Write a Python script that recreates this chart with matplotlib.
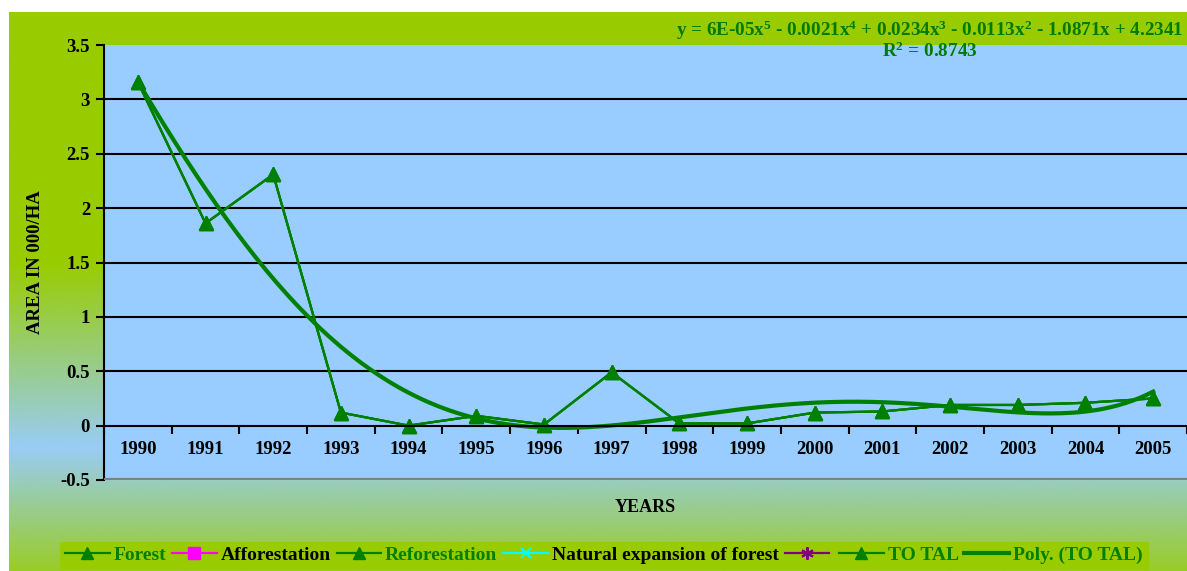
import numpy as np
import matplotlib
matplotlib.use("Agg")
import matplotlib.pyplot as plt
from matplotlib.colors import LinearSegmentedColormap
from matplotlib.lines import Line2D

plt.rcParams['font.family'] = ['Liberation Serif', 'DejaVu Serif']
plt.rcParams['font.weight'] = 'bold'
plt.rcParams['mathtext.fontset'] = 'custom'
plt.rcParams['mathtext.rm'] = 'Liberation Serif:bold'
plt.rcParams['mathtext.default'] = 'rm'

years = ['1990', '1991', '1992', '1993', '1994', '1995', '1996', '1997',
         '1998', '1999', '2000', '2001', '2002', '2003', '2004', '2005']
total = [3.16, 1.86, 2.31, 0.12, 0.0, 0.09, 0.01, 0.49,
         0.02, 0.02, 0.12, 0.13, 0.19, 0.19, 0.21, 0.25]
forest = list(total)
reforestation = list(total)
afforestation = []
natural_expansion = []
other = []

green = '#008000'

fig = plt.figure(figsize=(11.87, 5.71), dpi=100)

# chart-area gradient background
bg = fig.add_axes([9 / 1187, 0, 1 - 9 / 1187, 1 - 12 / 571], zorder=-5)
cmap = LinearSegmentedColormap.from_list('bg', [
    (0.0, (153/255, 204/255, 0)),
    (0.45, (153/255, 204/255, 0)),
    (0.78, (153/255, 204/255, 245/255)),
    (1.0, (153/255, 204/255, 40/255))])
bg.imshow(np.linspace(0, 1, 256).reshape(-1, 1), cmap=cmap, aspect='auto',
          extent=[0, 1, 0, 1])
bg.set_axis_off()

ax = fig.add_axes([104 / 1187, 1 - 480 / 571, 1 - 104 / 1187, (480 - 45) / 571])
ax.set_facecolor('#99CCFF')

x = np.arange(len(years))
ax.plot(x, forest, color=green, lw=1.6, marker='^', ms=9.5)
ax.plot(x, reforestation, color=green, lw=1.6, marker='^', ms=9.5)
ax.plot(x, total, color=green, lw=1.6, marker='^', ms=9.5)

# polynomial trendline (order 5) on TOTAL
coef = np.polyfit(x + 1, total, 5)
xf = np.linspace(1, 16, 300)
ax.plot(xf - 1, np.polyval(coef, xf), color=green, lw=3)

ax.set_xlim(-0.5, 15.5)
ax.set_ylim(-0.5, 3.5)
for v in np.arange(0.5, 3.01, 0.5):
    ax.axhline(v, color='black', lw=1.5, zorder=0.5)
ax.axhline(-0.5, color='#808080', lw=3, zorder=3)

for s in ['top', 'right']:
    ax.spines[s].set_visible(False)
ax.spines['left'].set_linewidth(1.5)
ax.spines['bottom'].set_position(('data', 0))
ax.spines['bottom'].set_linewidth(1.5)

ax.set_yticks(np.arange(-0.5, 3.51, 0.5))
ax.set_yticklabels(['-0.5', '0', '0.5', '1', '1.5', '2', '2.5', '3', '3.5'])
ax.tick_params(axis='y', length=6, width=1.5, labelsize=13.5, pad=4)

ax.set_xticks(np.arange(-0.5, 15.6, 1))
ax.set_xticklabels([])
ax.tick_params(axis='x', which='major', length=6, width=1.5, direction='out')
ax.set_xticks(x, minor=True)
ax.set_xticklabels(years, minor=True)
ax.tick_params(axis='x', which='minor', length=0, labelsize=13.5, pad=11)

ax.set_ylabel('AREA IN 000/HA', fontsize=13.5, fontweight='bold', labelpad=12)
fig.text(645 / 1187, 1 - 508 / 571, 'YEARS', ha='center', va='center',
         fontsize=13, fontweight='bold')

fig.text(1184 / 1187, 1 - 40 / 571,
         'y = 6E-05x$^{5}$ - 0.0021x$^{4}$ + 0.0234x$^{3}$ - 0.0113x$^{2}$ - 1.0871x + 4.2341\nR$^{2}$ = 0.8743',
         ha='right', va='center', multialignment='center', color='#007A00',
         fontsize=13.8, fontweight='bold', linespacing=1.0)

handles = [
    Line2D([], [], color=green, lw=1.6, marker='^', ms=9),
    Line2D([], [], color='#FF00FF', lw=1.6, marker='s', ms=8),
    Line2D([], [], color=green, lw=1.6, marker='^', ms=9),
    Line2D([], [], color='#00FFFF', lw=1.6, marker='x', ms=7, mew=1.5),
    Line2D([], [], color='#800080', lw=1.6, marker=(6, 2, 0), ms=9, mew=1.5),
    Line2D([], [], color=green, lw=1.6, marker='^', ms=9),
    Line2D([], [], color=green, lw=3),
]
labels = ['Forest', 'Afforestation', 'Reforestation', 'Natural expansion of forest',
          '', 'TO TAL', 'Poly. (TO TAL)']
leg = fig.legend(handles, labels, loc='lower left', bbox_to_anchor=(60 / 1187, 2 / 571),
                 ncol=7, frameon=True, fancybox=False, facecolor='#99CC00',
                 edgecolor='#99CC00', framealpha=1, fontsize=14,
                 handlelength=2.3, handletextpad=0.2, columnspacing=0.3,
                 borderpad=0.25, borderaxespad=0)
text_colors = [green, 'black', green, 'black', 'black', green, green]
for t, c in zip(leg.get_texts(), text_colors):
    t.set_color(c)

fig.savefig('out.png', dpi=100)
